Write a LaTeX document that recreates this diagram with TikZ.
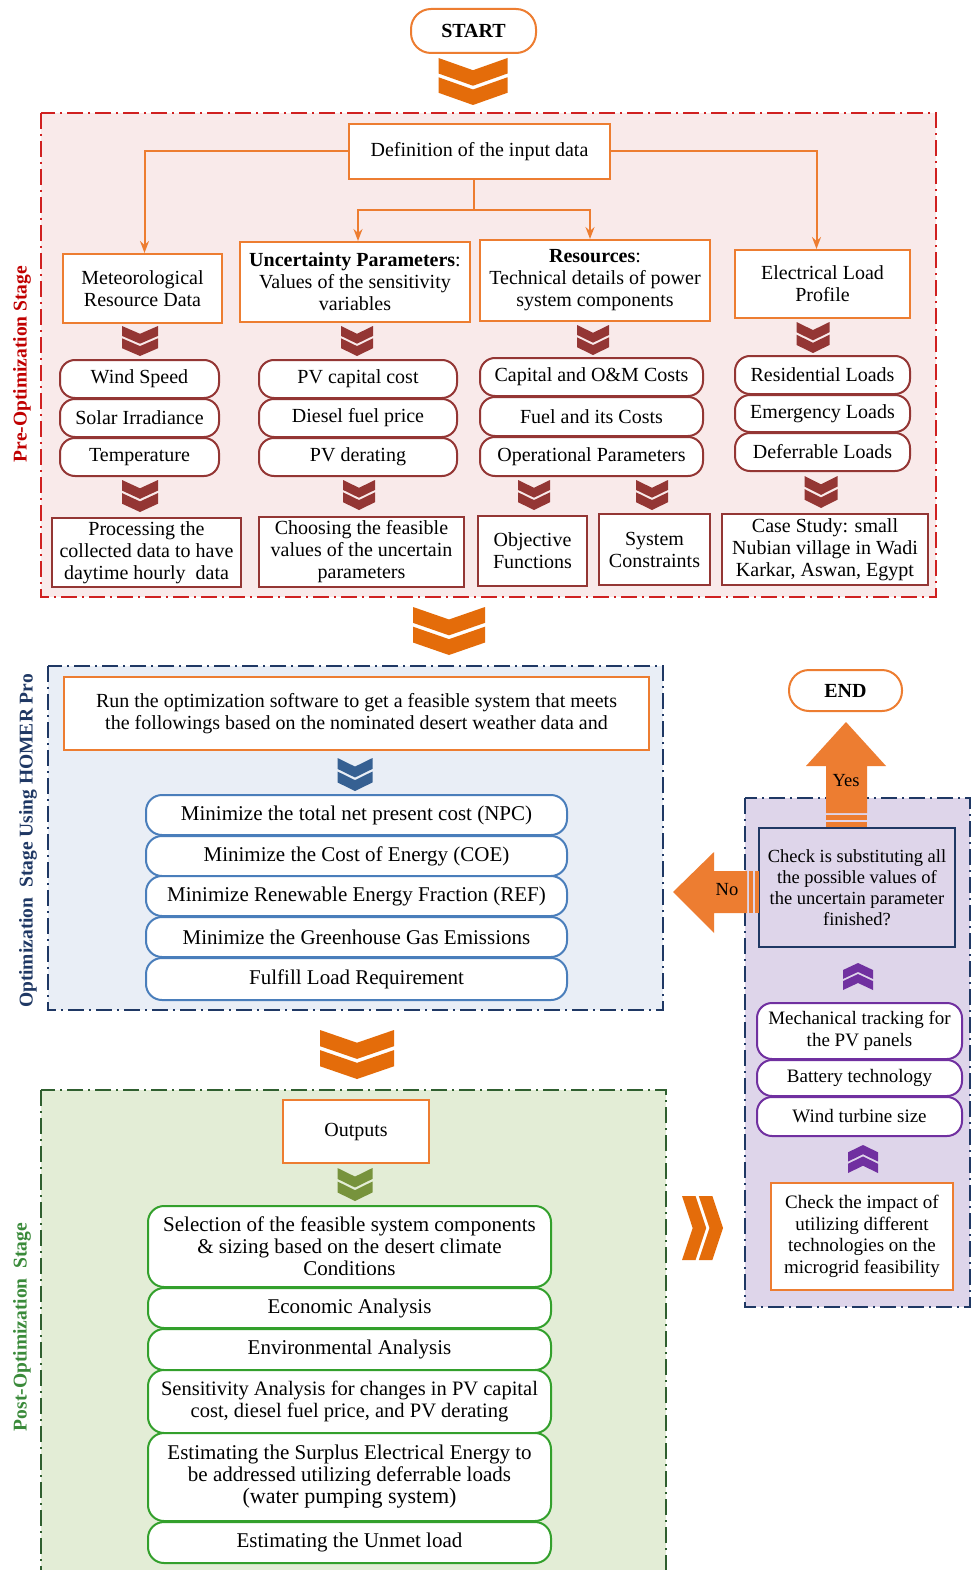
\documentclass[tikz,border=0pt]{standalone}
\usepackage{fontspec}
\setmainfont{Liberation Serif}
\usetikzlibrary{arrows.meta}
\definecolor{orgD}{HTML}{E46C0A}
\definecolor{orgB}{HTML}{ED7D31}
\definecolor{maroon}{HTML}{943634}
\definecolor{redB}{HTML}{D02020}
\definecolor{redL}{HTML}{C00000}
\definecolor{pinkF}{HTML}{F9EAEA}
\definecolor{navy}{HTML}{1F3864}
\definecolor{blueF}{HTML}{E9EEF6}
\definecolor{blueP}{HTML}{4A7EBB}
\definecolor{blueC}{HTML}{366092}
\definecolor{greenF}{HTML}{E3EDD6}
\definecolor{greenB}{HTML}{2F5F2F}
\definecolor{greenL}{HTML}{3A8A3A}
\definecolor{greenP}{HTML}{33A02C}
\definecolor{greenC}{HTML}{77933C}
\definecolor{purpleF}{HTML}{DED5EA}
\definecolor{purpleB}{HTML}{7030A0}
\newcommand\fsA{\fontsize{20}{22}\selectfont}
\newcommand\fsW{\fontsize{21}{22}\selectfont}
\newcommand\fsB{\fontsize{18.5}{21}\selectfont}
\newcommand\fsC{\fontsize{19}{21.5}\selectfont}
\newcommand\bx[7]{\node[#6, minimum width={(#4-#2)*1pt}, minimum height={(#5-#3)*1pt}] (#1) at ({(#2+#4)/2},{(#3+#5)/2}) {#7};}
\newcommand\ChevD[5]{\fill[#5] ({#1-#3/2},{#2}) -- ({#1},{#2+0.26*#4}) -- ({#1+#3/2},{#2}) -- ({#1+#3/2},{#2+0.33*#4}) -- ({#1},{#2+0.59*#4}) -- ({#1-#3/2},{#2+0.33*#4}) -- cycle
 ({#1-#3/2},{#2+0.41*#4}) -- ({#1},{#2+0.67*#4}) -- ({#1+#3/2},{#2+0.41*#4}) -- ({#1+#3/2},{#2+0.74*#4}) -- ({#1},{#2+#4}) -- ({#1-#3/2},{#2+0.74*#4}) -- cycle;}
\newcommand\ChevU[5]{\fill[#5] ({#1-#3/2},{#2}) -- ({#1},{#2-0.26*#4}) -- ({#1+#3/2},{#2}) -- ({#1+#3/2},{#2-0.33*#4}) -- ({#1},{#2-0.59*#4}) -- ({#1-#3/2},{#2-0.33*#4}) -- cycle
 ({#1-#3/2},{#2-0.41*#4}) -- ({#1},{#2-0.67*#4}) -- ({#1+#3/2},{#2-0.41*#4}) -- ({#1+#3/2},{#2-0.74*#4}) -- ({#1},{#2-#4}) -- ({#1-#3/2},{#2-0.74*#4}) -- cycle;}
\newcommand\ChevR[5]{\fill[#5] ({#1},{#2-#4/2}) -- ({#1+0.26*#3},{#2}) -- ({#1},{#2+#4/2}) -- ({#1+0.33*#3},{#2+#4/2}) -- ({#1+0.59*#3},{#2}) -- ({#1+0.33*#3},{#2-#4/2}) -- cycle
 ({#1+0.41*#3},{#2-#4/2}) -- ({#1+0.67*#3},{#2}) -- ({#1+0.41*#3},{#2+#4/2}) -- ({#1+0.74*#3},{#2+#4/2}) -- ({#1+#3},{#2}) -- ({#1+0.74*#3},{#2-#4/2}) -- cycle;}
\begin{document}
\begin{tikzpicture}[x=1pt,y=-1pt,
  ob/.style={draw=orgB, line width=2pt, fill=white, align=center, inner sep=2pt, font=\fsA},
  mbx/.style={draw=maroon, line width=2pt, fill=white, align=center, inner sep=2pt, font=\fsA},
  mp/.style={draw=maroon, line width=2pt, fill=white, rounded corners=15pt, align=center, inner sep=2pt, font=\fsA},
  bp/.style={draw=blueP, line width=2pt, fill=white, rounded corners=16pt, align=center, inner sep=2pt, font=\fsW},
  gp/.style={draw=greenP, line width=2pt, fill=white, rounded corners=16pt, align=center, inner sep=2pt, font=\fsW},
  pp/.style={draw=purpleB, line width=2pt, fill=white, rounded corners=15pt, align=center, inner sep=2pt, font=\fsC},
  term/.style={draw=orgB, line width=2pt, fill=white, rounded corners=20pt, font=\fsA\bfseries},
  stage/.style={line width=2pt, dash pattern=on 16pt off 5pt on 2pt off 5pt},
  conn/.style={draw=orgB, line width=2pt, -{Stealth[length=12pt,width=9pt,inset=4pt]}},
  lbl/.style={rotate=90, font=\fontsize{19.5}{22}\selectfont\bfseries}]
\useasboundingbox (0,0) rectangle (972,1570);
\fill[white] (0,0) rectangle (972,1570);

% START
\bx{start}{411}{9}{536}{53}{term}{START}
\ChevD{473}{58}{69}{47}{orgD}

% Pre-optimization stage
\filldraw[fill=pinkF, draw=redB, stage] (41,113) rectangle (936,597);
\node[lbl, text=redL] (prelbl) at (22,364) {Pre-Optimization Stage};
\bx{def}{349}{124}{610}{179}{ob}{Definition of the input data}
\bx{met}{63}{254}{222}{323}{ob}{Meteorological\\Resource Data}
\bx{unc}{240}{242}{470}{322}{ob}{\textbf{Uncertainty Parameters}:\\Values of the sensitivity\\variables}
\bx{res}{480}{240}{710}{321}{ob}{\textbf{Resources}:\\Technical details of power\\system components}
\bx{elec}{735}{250}{910}{318}{ob}{Electrical Load\\Profile}
\draw[draw=orgB, line width=2pt] ([xshift=-5.5pt]def.south) -- ++(0,30) coordinate (j);
\draw[conn] (def.west) -| ([xshift=2pt]met.north);
\draw[conn] (def.east) -| ([xshift=-6pt]elec.north);
\draw[conn] (j) -| ([xshift=3pt]unc.north);
\draw[conn] (j) -| ([xshift=-5pt]res.north);

\ChevD{140}{326}{36}{30}{maroon}
\ChevD{357}{326}{32}{30}{maroon}
\ChevD{593}{325}{32}{30}{maroon}
\ChevD{813}{322}{33}{31}{maroon}

\bx{ws}{60}{360}{219}{398}{mp}{Wind Speed}
\bx{si}{60}{399}{219}{437}{mp}{Solar Irradiance}
\bx{tp}{60}{438}{219}{476}{mp}{Temperature}
\bx{pvc}{259}{360}{457}{398}{mp}{PV capital cost}
\bx{dfp}{259}{399}{457}{437}{mp}{Diesel fuel price}
\bx{pvd}{259}{438}{457}{476}{mp}{PV derating}
\bx{cap}{480}{358}{703}{396}{mp}{Capital and O\&M Costs}
\bx{fuel}{480}{397}{703}{436}{mp}{Fuel and its Costs}
\bx{opp}{480}{437}{703}{476}{mp}{Operational Parameters}
\bx{resl}{735}{356}{910}{394}{mp}{Residential Loads}
\bx{emgl}{735}{395}{910}{432}{mp}{Emergency Loads}
\bx{defl}{735}{433}{910}{471}{mp}{Deferrable Loads}

\ChevD{140}{480}{36}{32}{maroon}
\ChevD{359}{480}{32}{30}{maroon}
\ChevD{534}{480}{32}{30}{maroon}
\ChevD{652}{480}{32}{30}{maroon}
\ChevD{821}{476}{33}{32}{maroon}

\bx{proc}{52}{518}{241}{587}{mbx}{Processing the\\collected data to have\\daytime hourly~ data}
\bx{choose}{259}{517}{464}{587}{mbx}{Choosing the feasible\\values of the uncertain\\parameters}
\bx{obj}{478}{516}{587}{586}{mbx}{Objective\\Functions}
\bx{sys}{599}{514}{710}{585}{mbx}{System\\Constraints}
\bx{case}{722}{514}{928}{585}{mbx}{Case Study: small\\Nubian village in Wadi\\Karkar, Aswan, Egypt}

\ChevD{449}{607}{72}{48}{orgD}

% Optimization stage
\filldraw[fill=blueF, draw=navy, stage] (48,666) rectangle (663,1010);
\node[lbl, text=navy] (optlbl) at (28,841) {Optimization~ Stage Using HOMER Pro};
\bx{run}{64}{677}{649}{750}{ob}{Run the optimization software to get a feasible system that meets\\the followings based on the nominated desert weather data and}
\ChevD{355}{758}{35}{33}{blueC}
\bx{npc}{146}{795}{567}{835}{bp}{Minimize the total net present cost (NPC)}
\bx{coe}{146}{836}{567}{876}{bp}{Minimize the Cost of Energy (COE)}
\bx{ref}{146}{876}{567}{916}{bp}{Minimize Renewable Energy Fraction (REF)}
\bx{ghg}{146}{917}{567}{957}{bp}{Minimize the Greenhouse Gas Emissions}
\bx{ful}{146}{958}{567}{1000}{bp}{Fulfill Load Requirement}

\ChevD{357}{1030}{74}{49}{orgD}

% Post-optimization stage
\filldraw[fill=greenF, draw=greenB, stage] (41,1090) rectangle (666,1578);
\node[lbl, text=greenL] (postlbl) at (22,1327) {Post-Optimization~ Stage};
\bx{outp}{283}{1100}{429}{1163}{ob}{Outputs}
\ChevD{355}{1168}{35}{33}{greenC}
\bx{sel}{148}{1206}{551}{1287}{gp}{Selection of the feasible system components\\\& sizing based on the desert climate\\Conditions}
\bx{eco}{148}{1288}{551}{1328}{gp}{Economic Analysis}
\bx{env}{148}{1329}{551}{1370}{gp}{Environmental Analysis}
\bx{sen}{148}{1370}{551}{1433}{gp, font=\fontsize{20.5}{22}\selectfont}{Sensitivity Analysis for changes in PV capital\\cost, diesel fuel price, and PV derating}
\bx{sur}{148}{1433}{551}{1521}{gp}{Estimating the Surplus Electrical Energy to\\be addressed utilizing deferrable loads\\{\fontsize{22}{25}\selectfont(water pumping system)}}
\bx{unm}{148}{1522}{551}{1563}{gp}{Estimating the Unmet load}

% Right side
\bx{endn}{789}{670}{902}{711}{term}{END}
\filldraw[fill=purpleF, draw=navy, stage] (745,798) rectangle (970,1307);
\bx{check}{759}{828}{955}{947}{draw=navy, line width=2pt, fill=purpleF, align=center, inner sep=2pt, font=\fsB}{Check is substituting all\\the possible values of\\the uncertain parameter\\finished?}
% Yes arrow
\fill[orgB] (826,813) -- (826,766) -- (806,766) -- (846,722) -- (886,766) -- (867,766) -- (867,813) -- cycle;
\fill[orgB] (826,815) rectangle (867,820);
\fill[orgB] (826,822) rectangle (867,827);
\node[font=\fsB] (yes) at (846,781) {Yes};
% No arrow
\fill[orgB] (747,871) -- (714,871) -- (714,852) -- (673,892) -- (714,933) -- (714,913) -- (747,913) -- cycle;
\fill[orgB] (749,871) rectangle (753,913);
\fill[orgB] (755,871) rectangle (759,913);
\node[font=\fsB] (no) at (727,890) {No};

\ChevU{858}{990}{30}{27}{purpleB}
\bx{mech}{757}{1003}{962}{1059}{pp}{Mechanical tracking for\\the PV panels}
\bx{bat}{757}{1060}{962}{1096}{pp}{Battery technology}
\bx{wind}{757}{1097}{962}{1136}{pp}{Wind turbine size}
\ChevU{863}{1173}{30}{28}{purpleB}
\bx{imp}{771}{1183}{953}{1290}{ob, font=\fsC}{Check the impact of\\utilizing different\\technologies on the\\microgrid feasibility}

\ChevR{682}{1228}{41}{64}{orgD}
\end{tikzpicture}
\end{document}
